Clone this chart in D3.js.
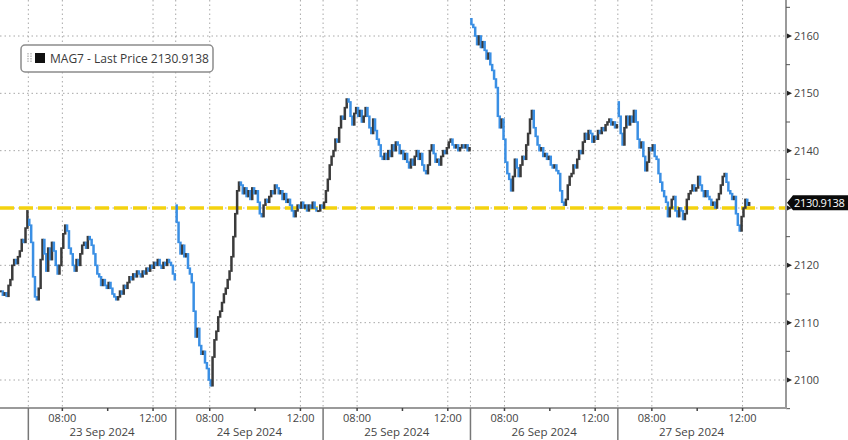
<!DOCTYPE html>
<html><head><meta charset="utf-8">
<script src="https://cdn.jsdelivr.net/npm/d3@7"></script>
<style>body{margin:0;background:#fff}svg{display:block;font-family:"Open Sans","Noto Sans",sans-serif}</style>
</head><body><svg id="c" width="848" height="440"></svg>
<script>
// ---- data (5-minute bars, session 06:30-13:00) ----
const seriesName = "MAG7 - Last Price";
const lastPrice = 2130.9138;
const refLevel = 2130;
const yTicks = [2100, 2110, 2120, 2130, 2140, 2150, 2160];
const dayLabels = ["23 Sep 2024", "24 Sep 2024", "25 Sep 2024", "26 Sep 2024", "27 Sep 2024"];
const timeTickLabels = ["08:00", "12:00"];
const minorTimeTicks = ["10:00"];
const sessionOpens = [2128, 2130.5, 2130, 2163, 2148.5];
const closes20Sep = [2115.5,2114.8,2115.2,2114.6,2116.5,2117.5,2120,2121,2120.3,2121.5,2122.5,2124.5,2124,2126.5,2129.5];
const closes23Sep = [2127,2124,2118,2114.5,2114,2116,2121,2124.5,2122,2119,2123,2121,2124,2122.5,2120,2118.5,2120,2123,2125.5,2127,
 2126,2123,2122,2120,2119,2121,2120,2122,2123.5,2124,2123,2125,2124.5,2123.5,2122,2120,2118.5,2118,2116.5,2117.5,
 2116.5,2116,2117,2116,2115,2114.5,2114,2114.5,2115.5,2115,2116.5,2116,2117,2118,2117.5,2118.5,2118,2119,2118.5,2118,
 2119,2118.5,2119.5,2119,2120,2119.5,2120.5,2120,2121,2120,2119.5,2120.5,2120,2121,2120.5,2120,2118.5,2117.5];
const closes24Sep = [2127.5,2124,2122,2123.5,2121.5,2122,2119.5,2118.5,2117,2112,2107.5,2109,2106,2104.5,2105,2103,2102,2100,2099,2104,
 2107,2108.5,2111,2112,2113.5,2115,2116,2117.5,2119,2121.5,2125,2129,2133,2134.5,2134,2132.5,2133.5,2132,2133,2131.5,
 2133.5,2132.5,2133,2131,2129,2128.5,2130.5,2131.5,2131,2132,2133,2132.5,2134,2133.5,2132.5,2133,2131.5,2132.5,2131,2131.5,
 2130.5,2129.5,2128.5,2129.5,2130.5,2130,2131,2130,2130.5,2129.5,2130.5,2130,2131,2130,2129.5,2129.5,2130.5,2130];
const closes25Sep = [2131,2133,2135,2137.5,2139,2140,2142,2141.5,2144,2146,2145.5,2147.5,2149,2148.5,2146,2144.5,2146.5,2147.5,2146,2147,
 2145,2146,2147.5,2146,2144,2143,2145.5,2143.5,2142,2141,2139,2138.5,2139.5,2138.5,2140,2139,2141,2140,2141.5,2141,
 2139.5,2140,2138.5,2139.5,2138,2137,2138.5,2137.5,2139,2140,2138.5,2139.5,2137.5,2136.5,2136,2137.5,2140,2141,2139.5,2138,
 2138.5,2137.5,2139,2140,2139.5,2140.5,2141.5,2142,2141,2140.5,2141,2140,2140.5,2141,2140.5,2141,2140,2140.5];
const closes26Sep = [2162,2161.5,2160,2158.5,2160,2158,2159,2157.5,2156,2157,2155,2154,2152.5,2151,2146,2144,2145.5,2142,2138,2136,
 2135,2133,2135.5,2138.5,2137,2135.5,2137.5,2139,2138.5,2141,2143,2145.5,2147,2144,2142.5,2141,2140,2140.5,2139,2139.5,
 2138.5,2139,2137.5,2137,2137.5,2136.5,2136,2133,2131,2130.5,2131.5,2134,2135.5,2136,2137.5,2137,2138.5,2140,2139.5,2141.5,
 2143,2142,2143.5,2143,2141.5,2142.5,2142,2143.5,2143,2144,2143.5,2144.5,2145,2145.5,2144.5,2145,2144,2144.5];
const closes27Sep = [2146,2143,2141,2144,2146,2144.5,2146,2145,2147,2145,2142,2140.5,2141.5,2139,2136.5,2138,2140.5,2140,2141,2139,
 2138.5,2136,2134.5,2133,2132,2131,2128.5,2130,2131.5,2132,2129.5,2128.5,2130,2129.5,2128,2129,2131.5,2132.5,2133,2134,
 2133,2133.5,2135.5,2134,2133,2132,2133,2132,2131.5,2130.5,2131,2130,2131.5,2132.5,2134,2135.5,2136,2134.5,2133,2132.5,
 2131.5,2132,2129,2127,2126,2128.5,2130,2131.5,2130.5,2130.9138];

// ---- build bars ----
const BARS_PER_DAY = 78;
const bars = [];
let prev = closes20Sep[0];
closes20Sep.forEach((c, j) => { bars.push({i: j - closes20Sep.length, o: prev, c}); prev = c; });
[closes23Sep, closes24Sep, closes25Sep, closes26Sep, closes27Sep].forEach((arr, d) => {
  arr.forEach((c, j) => {
    const o = j === 0 ? sessionOpens[d] : arr[j - 1];
    bars.push({i: d * BARS_PER_DAY + j, o, c});
  });
});

const W = 848, H = 440, plotR = 786, plotB = 408;
const svg = d3.select("#c");
const x = d3.scaleLinear().domain([-15, 401]).range([0, plotR]);
const y = d3.scaleLinear().domain([2100, 2160]).range([380, 36]);
const tickBar = t => { const [h, m] = t.split(":").map(Number); return ((h * 60 + m) - 390) / 5; };

// grid
const g = svg.append("g");
g.selectAll("line.h").data(yTicks).join("line")
  .attr("x1", 0).attr("x2", plotR).attr("y1", d => y(d)).attr("y2", d => y(d))
  .attr("stroke", "#a8a8a8").attr("stroke-width", 1).attr("stroke-dasharray", "1.5,3");
const vGrid = [];
dayLabels.forEach((_, d) => {
  vGrid.push(d * BARS_PER_DAY);
  timeTickLabels.forEach(t => vGrid.push(d * BARS_PER_DAY + tickBar(t)));
});
g.selectAll("line.v").data(vGrid).join("line")
  .attr("x1", d => x(d)).attr("x2", d => x(d)).attr("y1", 0).attr("y2", plotB)
  .attr("stroke", "#a8a8a8").attr("stroke-width", 1).attr("stroke-dasharray", "1.5,3");

// reference level
svg.append("line").attr("x1", 0).attr("x2", plotR).attr("y1", y(refLevel)).attr("y2", y(refLevel))
  .attr("stroke", "#f4d20f").attr("stroke-width", 3.5).attr("stroke-dasharray", "14,5");

// bars
const bw = 2.5;
svg.append("g").selectAll("rect").data(bars).join("rect")
  .attr("x", d => x(d.i + 0.5) - bw / 2).attr("width", bw)
  .attr("y", d => Math.min(y(d.o), y(d.c)) - 0.8)
  .attr("height", d => Math.max(2, Math.abs(y(d.o) - y(d.c)) + 1.6))
  .attr("fill", d => d.c >= d.o ? "#3b3b3b" : "#3a8fe4");

// right axis
svg.append("line").attr("x1", plotR).attr("x2", plotR).attr("y1", 0).attr("y2", plotB + 1)
  .attr("stroke", "#9a9a9a").attr("stroke-width", 2);
const minor = d3.range(2095, 2166, 5).filter(v => v % 10 !== 0);
svg.selectAll("line.mn").data(minor).join("line")
  .attr("x1", plotR).attr("x2", plotR + 4).attr("y1", d => y(d)).attr("y2", d => y(d))
  .attr("stroke", "#555").attr("stroke-width", 1);
svg.selectAll("path.tri").data(yTicks).join("path")
  .attr("d", d => `M${plotR + 1},${y(d) - 2.5}L${plotR + 6},${y(d)}L${plotR + 1},${y(d) + 2.5}Z`)
  .attr("fill", "#222");
// the 2130 label sits hidden under the last-price tag in the reference
svg.selectAll("text.yl").data(yTicks.filter(v => Math.abs(y(v) - y(lastPrice)) > 12)).join("text")
  .attr("x", plotR + 8).attr("y", d => y(d) + 4).text(d => d)
  .attr("font-size", 11).attr("fill", "#444");

// last price tag
const ly = y(lastPrice);
svg.append("path").attr("d", `M${plotR + 1},${ly}L${plotR + 7},${ly - 7.5}L${W},${ly - 7.5}L${W},${ly + 7.5}L${plotR + 7},${ly + 7.5}Z`)
  .attr("fill", "#0a0a0a");
svg.append("text").attr("x", plotR + 8).attr("y", ly + 4).text(lastPrice.toFixed(4))
  .attr("font-size", 11).attr("fill", "#fff").attr("letter-spacing", -0.3);

// bottom axis
svg.append("line").attr("x1", 0).attr("x2", plotR + 1).attr("y1", plotB).attr("y2", plotB)
  .attr("stroke", "#9a9a9a").attr("stroke-width", 2);
const tt = [];
dayLabels.forEach((_, d) => {
  timeTickLabels.forEach(t => tt.push({b: d * BARS_PER_DAY + tickBar(t), t, lab: true}));
  minorTimeTicks.forEach(t => tt.push({b: d * BARS_PER_DAY + tickBar(t), t, lab: false}));
});
svg.selectAll("line.bt").data(tt).join("line")
  .attr("x1", d => x(d.b)).attr("x2", d => x(d.b)).attr("y1", plotB).attr("y2", plotB + 3)
  .attr("stroke", "#444").attr("stroke-width", 1.5);
svg.selectAll("text.bt").data(tt.filter(d => d.lab)).join("text")
  .attr("x", d => x(d.b)).attr("y", 422).attr("text-anchor", "middle").text(d => d.t)
  .attr("font-size", 11).attr("fill", "#444");
svg.selectAll("line.ds").data(dayLabels).join("line")
  .attr("x1", (d, i) => x(i * BARS_PER_DAY)).attr("x2", (d, i) => x(i * BARS_PER_DAY))
  .attr("y1", plotB).attr("y2", H).attr("stroke", "#777").attr("stroke-width", 1.5);
svg.selectAll("text.dl").data(dayLabels).join("text")
  .attr("x", (d, i) => x(i * BARS_PER_DAY + BARS_PER_DAY / 2)).attr("y", 436)
  .attr("text-anchor", "middle").text(d => d).attr("font-size", 11.5).attr("fill", "#444");

// legend
const lg = svg.append("g");
lg.append("rect").attr("x", 21).attr("y", 45).attr("width", 192).attr("height", 27).attr("rx", 4)
  .attr("fill", "#fff").attr("stroke", "#8c8c8c").attr("stroke-width", 1.5);
[28, 31].forEach(xx => lg.append("line").attr("x1", xx).attr("x2", xx).attr("y1", 53).attr("y2", 63)
  .attr("stroke", "#999").attr("stroke-width", 1).attr("stroke-dasharray", "1.5,1"));
lg.append("rect").attr("x", 35).attr("y", 53).attr("width", 10).attr("height", 10).attr("fill", "#111");
lg.append("text").attr("x", 50).attr("y", 62.5).text(`${seriesName} ${lastPrice.toFixed(4)}`)
  .attr("font-size", 12).attr("fill", "#3a3a3a");
</script></body></html>
